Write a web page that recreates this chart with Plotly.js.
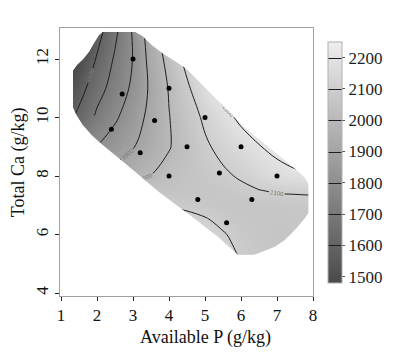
<!DOCTYPE html>
<html>
<head>
<meta charset="utf-8">
<script src="https://cdn.plot.ly/plotly-3.0.1.min.js"></script>
<style>
  html, body { margin: 0; padding: 0; background: #ffffff; }
  #chart { width: 395px; height: 353px; }
</style>
</head>
<body>
<div id="chart"></div>
<script>
// Observed design points
const availableP = [3, 2.7, 4, 2.4, 3.6, 5, 3.2, 4.5, 6, 4, 5.4, 7, 4.8, 6.3, 5.6];
const totalCa    = [12, 10.8, 11, 9.6, 9.9, 10, 8.8, 9, 9, 8, 8.1, 8, 7.2, 7.2, 6.4];

// Response surface grid
const gridP  = [1.33, 2, 2.5, 3, 3.5, 4, 4.5, 5, 5.5, 6, 6.5, 7, 7.5, 7.88];
const gridCa = [5.3, 6, 6.5, 7, 7.5, 8, 9, 10, 11, 12, 12.93];
const row5_3  = [2450, 2420, 2390, 2360, 2330, 2290, 2240, 2190, 2140, 2090, 2070, 2062, 2060, 2060];
const row6    = [2400, 2360, 2330, 2300, 2270, 2230, 2190, 2150, 2107, 2075, 2062, 2058, 2058, 2060];
const row6_5  = [2350, 2300, 2260, 2225, 2190, 2160, 2135, 2108, 2080, 2068, 2062, 2060, 2062, 2065];
const row7    = [2300, 2250, 2200, 2150, 2115, 2092, 2078, 2068, 2062, 2060, 2062, 2065, 2070, 2072];
const row7_5  = [2200, 2120, 2080, 2050, 2045, 2050, 2055, 2060, 2068, 2080, 2097, 2108, 2110, 2112];
const row8    = [1850, 1900, 1940, 1972, 2002, 2028, 2050, 2068, 2085, 2110, 2140, 2165, 2185, 2195];
const row9    = [1740, 1803, 1850, 1895, 1945, 1995, 2041, 2087, 2125, 2160, 2196, 2225, 2245, 2255];
const row10   = [1590, 1720, 1786, 1856, 1927, 1997, 2056, 2115, 2171, 2218, 2240, 2250, 2255, 2257];
const row11   = [1525, 1661, 1741, 1818, 1918, 2006, 2084, 2173, 2240, 2255, 2263, 2268, 2270, 2272];
const row12   = [1440, 1610, 1712, 1803, 1935, 2030, 2130, 2195, 2235, 2255, 2265, 2270, 2275, 2275];
const row12_93= [1370, 1560, 1680, 1810, 1955, 2075, 2150, 2200, 2230, 2250, 2260, 2265, 2270, 2270];

// Outline of the predicted region, clockwise
const regionP  = [2.16, 2.75, 3.05, 3.27, 3.5, 3.82, 4.46, 5.2, 6.12, 7.03, 7.35, 7.68, 7.8, 7.88,
                  7.88, 7.77, 7.6, 7.4, 7.2, 6.94, 6.48, 6.35, 5.92, 5.38, 4.65, 3.73, 2.81, 2.1,
                  1.85, 1.6, 1.42, 1.33, 1.33, 1.45, 1.62, 1.78, 1.92, 2.05];
const regionCa = [12.93, 12.93, 12.93, 12.78, 12.5, 12.2, 11.69, 10.78, 9.64, 8.73, 8.4, 8.05, 7.9, 7.7,
                  6.75, 6.55, 6.3, 6.04, 5.8, 5.58, 5.36, 5.3, 5.3, 5.9, 6.6, 7.45, 8.4, 9.12,
                  9.4, 9.75, 10.1, 10.35, 11.6, 11.8, 12.0, 12.25, 12.55, 12.8];

// Tick labels
const xTickVals = [1, 2, 3, 4, 5, 6, 7, 8];
const yTickVals = [4, 6, 8, 10, 12];
const cbTickVals = [1500, 1600, 1700, 1800, 1900, 2000, 2100, 2200];

const zGrid = [row5_3, row6, row6_5, row7, row7_5, row8, row9, row10, row11, row12, row12_93];

const serif = 'Liberation Serif';

// White mask: grid box minus the predicted region
function maskPath() {
  const pad = 0.03;
  const xmin = gridP[0] - pad, xmax = gridP[gridP.length - 1] + pad;
  const ymin = gridCa[0] - pad, ymax = gridCa[gridCa.length - 1] + pad;
  let d = `M${xmin},${ymin} L${xmax},${ymin} L${xmax},${ymax} L${xmin},${ymax} Z `;
  regionP.forEach((p, i) => {
    d += (i === 0 ? 'M' : 'L') + p + ',' + regionCa[i] + ' ';
  });
  return d + 'Z';
}

const surface = {
  type: 'contour',
  x: gridP,
  y: gridCa,
  z: zGrid,
  zauto: false,
  zmin: 1480,
  zmax: 2250,
  colorscale: [[0, '#4a4a4a'], [1, '#eeeeee']],
  contours: {
    coloring: 'heatmap',
    start: 1600, end: 2200, size: 100,
    showlabels: true,
    labelfont: { size: 6, color: '#7a7a7a', family: 'Liberation Sans' }
  },
  line: { color: '#1e1e1e', width: 1, smoothing: 1 },
  colorbar: {
    x: 1.059, xanchor: 'left', xpad: 0,
    y: 0.948, yanchor: 'top', ypad: 0,
    len: 241, lenmode: 'pixels',
    thickness: 14,
    outlinecolor: '#b0b0b0', outlinewidth: 1,
    tickvals: cbTickVals,
    ticktext: cbTickVals.map(String),
    ticks: 'outside', ticklen: 3, tickcolor: '#555',
    tickfont: { family: serif, size: 17, color: '#222' }
  },
  hoverinfo: 'skip'
};

const points = {
  type: 'scatter',
  mode: 'markers',
  x: availableP,
  y: totalCa,
  marker: { color: '#000', size: 5 },
  showlegend: false,
  hoverinfo: 'skip'
};

const layout = {
  width: 395, height: 353,
  margin: { l: 60, r: 80, t: 28, b: 57 },
  paper_bgcolor: '#ffffff',
  plot_bgcolor: '#ffffff',
  showlegend: false,
  xaxis: {
    range: [0.972, 8.0],
    tickvals: xTickVals, ticktext: xTickVals.map(String),
    ticks: 'outside', ticklen: 4, tickcolor: '#222',
    showline: true, linecolor: '#a0a0a0', linewidth: 1, mirror: true,
    showgrid: false, zeroline: false,
    tickfont: { family: serif, size: 17, color: '#111' }
  },
  yaxis: {
    range: [3.9, 13.06],
    tickvals: yTickVals, ticktext: yTickVals.map(String),
    tickangle: -90,
    ticks: 'outside', ticklen: 4, tickcolor: '#222',
    showline: true, linecolor: '#a0a0a0', linewidth: 1, mirror: true,
    showgrid: false, zeroline: false,
    tickfont: { family: serif, size: 17, color: '#111' }
  },
  shapes: [{
    type: 'path', xref: 'x', yref: 'y',
    path: maskPath(),
    fillcolor: '#ffffff', fillrule: 'evenodd',
    line: { width: 0 },
    layer: 'above'
  }],
  annotations: [
    { text: 'Available P (g/kg)', xref: 'paper', yref: 'paper', x: 0.576, y: -0.153,
      xanchor: 'center', yanchor: 'middle', showarrow: false,
      font: { family: serif, size: 18, color: '#111' } },
    { text: 'Total Ca (g/kg)', xref: 'paper', yref: 'paper', x: -0.165, y: 0.5,
      xanchor: 'center', yanchor: 'middle', showarrow: false, textangle: -90,
      font: { family: serif, size: 18, color: '#111' } }
  ]
};

Plotly.newPlot('chart', [surface, points], layout, { displayModeBar: false, staticPlot: true });
</script>
</body>
</html>
